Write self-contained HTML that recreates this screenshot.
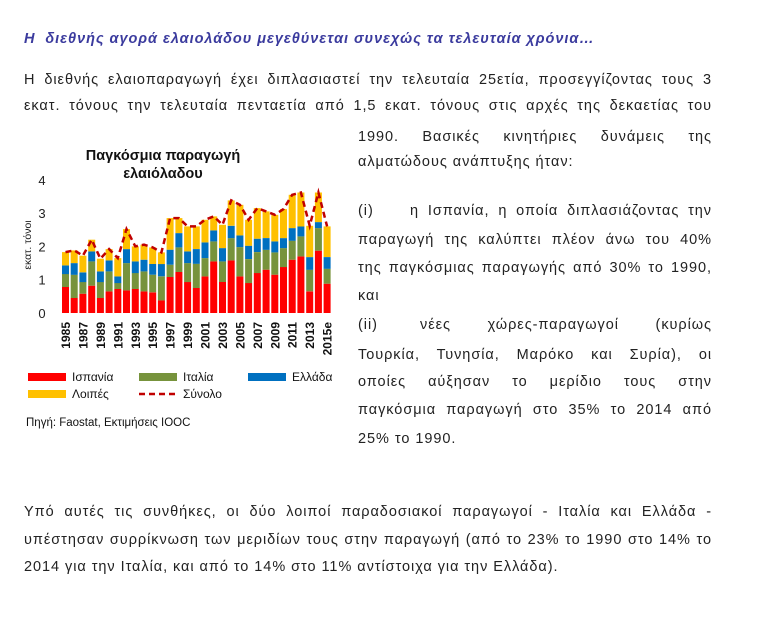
<!DOCTYPE html>
<html><head><meta charset="utf-8"><style>
body{margin:0;background:#fff;width:770px;height:629px;position:relative;overflow:hidden;font-family:"Liberation Sans","DejaVu Sans",sans-serif;color:#222}
.l{position:absolute;font-size:14.5px;letter-spacing:0.95px;white-space:nowrap;line-height:18px}
.j{text-align:justify;text-align-last:justify;white-space:normal}
h1{position:absolute;left:24px;top:31px;margin:0;font-size:14.5px;letter-spacing:0.95px;font-style:italic;font-weight:bold;color:#3b3b9e}
svg{position:absolute;left:0;top:0}
</style></head><body>
<h1>Η&nbsp; διεθνής αγορά ελαιολάδου μεγεθύνεται συνεχώς τα τελευταία χρόνια…</h1>
<div class="l j" style="left:24px;top:71px;width:688px">Η διεθνής ελαιοπαραγωγή έχει διπλασιαστεί την τελευταία 25ετία, προσεγγίζοντας τους 3</div>
<div class="l j" style="left:24px;top:97px;width:688px">εκατ. τόνους την τελευταία πενταετία από 1,5 εκατ. τόνους στις αρχές της δεκαετίας του</div>
<div class="l j" style="left:358px;top:128px;width:354px">1990. Βασικές κινητήριες δυνάμεις της</div>
<div class="l" style="left:358px;top:153px">αλματώδους ανάπτυξης ήταν:</div>
<div class="l" style="left:358px;top:202px">(i)</div>
<div class="l j" style="left:410px;top:202px;width:302px">η Ισπανία, η οποία διπλασιάζοντας την</div>
<div class="l j" style="left:358px;top:231px;width:354px">παραγωγή της καλύπτει πλέον άνω του 40%</div>
<div class="l j" style="left:358px;top:259px;width:354px">της παγκόσμιας παραγωγής από 30% το 1990,</div>
<div class="l" style="left:358px;top:287px">και</div>
<div class="l" style="left:358px;top:316px">(ii)</div>
<div class="l j" style="left:420px;top:316px;width:292px">νέες χώρες-παραγωγοί (κυρίως</div>
<div class="l j" style="left:358px;top:346px;width:354px">Τουρκία, Τυνησία, Μαρόκο και Συρία), οι</div>
<div class="l j" style="left:358px;top:373px;width:354px">οποίες αύξησαν το μερίδιο τους στην</div>
<div class="l j" style="left:358px;top:401px;width:354px">παγκόσμια παραγωγή στο 35% το 2014 από</div>
<div class="l" style="left:358px;top:430px">25% το 1990.</div>
<div class="l j" style="left:24px;top:503px;width:688px">Υπό αυτές τις συνθήκες, οι δύο λοιποί παραδοσιακοί παραγωγοί - Ιταλία και Ελλάδα -</div>
<div class="l j" style="left:24px;top:531px;width:688px">υπέστησαν συρρίκνωση των μεριδίων τους στην παραγωγή (από το 23% το 1990 στο 14% το</div>
<div class="l" style="left:24px;top:558px">2014 για την Ιταλία, και από το 14% στο 11% αντίστοιχα για την Ελλάδα).</div>
<svg id="c" width="770" height="629" font-family="Liberation Sans, sans-serif"></svg>
<script>
var d=[[.78,1.17,1.43,1.83],[.45,1.15,1.5,1.88],[.58,.93,1.22,1.72],[.82,1.55,1.85,2.2],[.45,.93,1.25,1.63],[.65,1.25,1.58,1.92],[.72,.9,1.1,1.65],[.68,1.5,1.92,2.52],[.72,1.2,1.55,2.0],[.65,1.25,1.6,2.05],[.62,1.15,1.47,1.97],[.38,1.1,1.47,1.82],[1.08,1.45,1.9,2.85],[1.23,1.97,2.4,2.85],[.93,1.5,1.85,2.6],[.75,1.48,1.92,2.6],[1.1,1.65,2.12,2.8],[1.55,2.15,2.48,2.9],[.93,1.55,1.95,2.65],[1.58,2.25,2.62,3.38],[1.1,1.98,2.33,3.25],[.9,1.62,2.02,2.8],[1.2,1.83,2.23,3.15],[1.3,1.9,2.25,3.05],[1.15,1.82,2.15,2.95],[1.38,1.95,2.25,3.12],[1.6,2.17,2.55,3.55],[1.7,2.3,2.6,3.62],[.65,1.3,1.68,2.62],[1.87,2.55,2.73,3.62],[.88,1.33,1.68,2.6]];
var col=["#ff0000","#77933c","#0070c0","#ffc000"];
var y0=313,u=33.3,s='';
s+='<text x="163" y="160" font-size="14.5" font-weight="bold" text-anchor="middle" fill="#111">Παγκόσμια παραγωγή</text>';
s+='<text x="163" y="178" font-size="14.5" font-weight="bold" text-anchor="middle" fill="#111">ελαιόλαδου</text>';
for(var k=0;k<=4;k++)s+='<text x="42" y="'+(y0-k*u+5)+'" font-size="13" text-anchor="middle" fill="#222">'+k+'</text>';
s+='<text transform="translate(31,245) rotate(-90)" font-size="10.5" text-anchor="middle" fill="#222">εκατ. τόνοι</text>';
var pts=[];
d.forEach(function(r,i){var x=62+i*8.72,p=0;for(var j=0;j<4;j++){s+='<rect x="'+x.toFixed(1)+'" y="'+(y0-r[j]*u).toFixed(1)+'" width="7" height="'+((r[j]-p)*u).toFixed(1)+'" fill="'+col[j]+'"/>';p=r[j];}
pts.push((x+3.5).toFixed(1)+','+(y0-r[3]*u).toFixed(1));
if(i%2==0||i==30){var lb=i==30?'2015e':String(1985+i);s+='<text transform="translate('+(x+8).toFixed(1)+',322) rotate(-90)" font-size="12" font-weight="bold" text-anchor="end" fill="#111">'+lb+'</text>';}});
s+='<polyline points="'+pts.join(' ')+'" fill="none" stroke="#c00000" stroke-width="2.5" stroke-dasharray="6,4"/>';
function lg(x,y,c,t,dash){s+=dash?'<line x1="'+x+'" y1="'+y+'" x2="'+(x+38)+'" y2="'+y+'" stroke="'+c+'" stroke-width="2.5" stroke-dasharray="6,4"/>':'<rect x="'+x+'" y="'+(y-4)+'" width="38" height="8" fill="'+c+'"/>';s+='<text x="'+(x+44)+'" y="'+(y+4)+'" font-size="12" fill="#111">'+t+'</text>';}
lg(28,377,col[0],'Ισπανία');lg(139,377,col[1],'Ιταλία');lg(248,377,col[2],'Ελλάδα');
lg(28,394,col[3],'Λοιπές');lg(139,394,'#c00000','Σύνολο',1);
s+='<text x="26" y="426" font-size="11.5" fill="#111">Πηγή: Faostat, Εκτιμήσεις IOOC</text>';
document.getElementById('c').innerHTML=s;
</script>
</body></html>
